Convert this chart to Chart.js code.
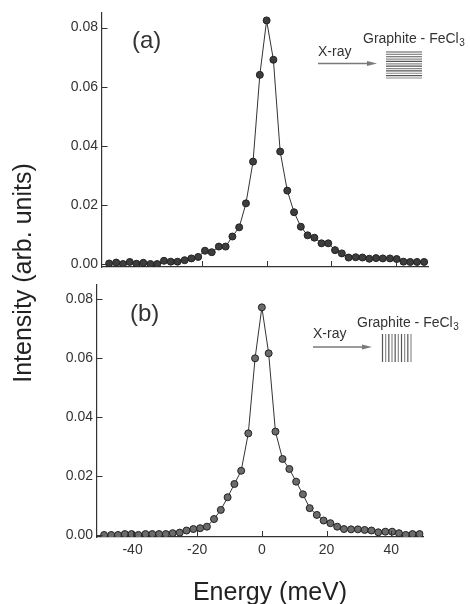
<!DOCTYPE html>
<html><head><meta charset="utf-8">
<script src="https://cdn.jsdelivr.net/npm/chart.js@4.4.0/dist/chart.umd.min.js"></script>
<style>
html,body{margin:0;padding:0;background:#fff;width:470px;height:604px;overflow:hidden;}
.wrap{position:absolute;left:0;top:0;width:470px;height:604px;}
canvas{position:absolute;left:0;top:0;}
</style></head><body>
<div class="wrap"><canvas id="ca" width="470" height="604"></canvas><canvas id="cb" width="470" height="604"></canvas></div>
<script>
// ---- data ----
const energy = [-48.8,-46.6,-44.5,-42.4,-40.3,-38.2,-36.0,-33.9,-31.8,-29.7,-27.6,-25.4,-23.3,-21.2,-19.1,-17.0,-14.8,-12.7,-10.6,-8.5,-6.4,-4.2,-2.1,0,2.1,4.2,6.4,8.5,10.6,12.7,14.8,17.0,19.1,21.2,23.3,25.4,27.6,29.7,31.8,33.9,36.0,38.2,40.3,42.4,44.5,46.6,48.8];
const intensityA = [0.0003,0.0006,0.0001,0.0008,0.0002,0.0005,0.0001,0.0001,0.0012,0.0009,0.0009,0.0014,0.0020,0.0025,0.0046,0.0041,0.0060,0.0060,0.0094,0.0125,0.0206,0.0347,0.0640,0.0824,0.0691,0.0381,0.0249,0.0176,0.0127,0.0098,0.0090,0.0071,0.0071,0.0048,0.0037,0.0023,0.0024,0.0023,0.0019,0.0021,0.0020,0.0020,0.0018,0.0009,0.0008,0.0008,0.0008];
const intensityB = [0.0000,0.0000,0.0000,0.0003,0.0003,0.0000,0.0003,0.0003,0.0003,0.0003,0.0006,0.0008,0.0015,0.0020,0.0023,0.0028,0.0054,0.0085,0.0128,0.0173,0.0218,0.0345,0.0600,0.0773,0.0617,0.0351,0.0258,0.0224,0.0181,0.0138,0.0091,0.0068,0.0049,0.0040,0.0028,0.0020,0.0019,0.0019,0.0017,0.0015,0.0009,0.0011,0.0011,0.0006,0.0000,0.0003,0.0003];
const yTicks = [0, 0.02, 0.04, 0.06, 0.08];
const xTicks = [-40, -20, 0, 20, 40];
const panelLabels = ['(a)', '(b)'];
const xTitle = 'Energy (meV)';
const yTitle = 'Intensity (arb. units)';
const insetBeam = 'X-ray';
const insetSample = 'Graphite - FeCl';
const insetSub = '3';

const FONT = '"Liberation Sans", Arial, Helvetica, sans-serif';
const INK = '#333';

function arrow(ctx, x1, x2, y){
  ctx.save();
  ctx.strokeStyle = '#7a7a7a'; ctx.fillStyle = '#7a7a7a'; ctx.lineWidth = 1.3;
  ctx.beginPath(); ctx.moveTo(x1, y); ctx.lineTo(x2 - 8, y); ctx.stroke();
  ctx.beginPath(); ctx.moveTo(x2, y); ctx.lineTo(x2 - 10, y - 2.6); ctx.lineTo(x2 - 10, y + 2.6); ctx.closePath(); ctx.fill();
  ctx.restore();
}
function sampleLabel(ctx, x, y){
  ctx.save();
  ctx.fillStyle = INK; ctx.textAlign = 'left'; ctx.textBaseline = 'alphabetic';
  ctx.font = '14px ' + FONT;
  ctx.fillText(insetSample, x, y);
  const w = ctx.measureText(insetSample).width;
  ctx.font = '10px ' + FONT;
  ctx.fillText(insetSub, x + w + 0.5, y + 3);
  ctx.restore();
}
function textAt(ctx, t, x, y, size){
  ctx.save(); ctx.fillStyle = INK; ctx.textAlign = 'left'; ctx.textBaseline = 'alphabetic';
  ctx.font = size + 'px ' + FONT; ctx.fillText(t, x, y); ctx.restore();
}

const decor = {
  id: 'decor',
  afterDatasetsDraw(chart, args, opts){
    const ctx = chart.ctx;
    const xs = chart.scales.x, ys = chart.scales.y;
    const a = chart.chartArea;
    // inside tick marks
    ctx.save();
    ctx.strokeStyle = INK; ctx.lineWidth = 1;
    xTicks.forEach(v => { const p = Math.round(xs.getPixelForValue(v)) + 0.5; ctx.beginPath(); ctx.moveTo(p, a.bottom); ctx.lineTo(p, a.bottom - 6); ctx.stroke(); });
    yTicks.forEach(v => { const p = Math.round(ys.getPixelForValue(v)) + 0.5; ctx.beginPath(); ctx.moveTo(a.left, p); ctx.lineTo(a.left + 5.5, p); ctx.stroke(); });
    ctx.restore();
    // panel label
    textAt(ctx, opts.label, opts.lx, opts.ly, 24);
    // inset
    textAt(ctx, insetBeam, opts.bx, opts.by, 14);
    arrow(ctx, opts.bx, opts.ax2, opts.ay);
    sampleLabel(ctx, opts.sx, opts.sy);
    ctx.save();
    const s = opts.stack;
    for (let i = 0; i < s.n; i++){
      ctx.strokeStyle = i % 2 ? '#8a8a8a' : '#555';
      ctx.lineWidth = 1.2;
      ctx.beginPath();
      if (s.dir === 'h'){ const y = s.y1 + i * (s.y2 - s.y1) / (s.n - 1); ctx.moveTo(s.x1, y); ctx.lineTo(s.x2, y); }
      else { const x = s.x1 + i * (s.x2 - s.x1) / (s.n - 1); ctx.moveTo(x, s.y1); ctx.lineTo(x, s.y2); }
      ctx.stroke();
    }
    ctx.restore();
    if (opts.titles){
      ctx.save(); ctx.fillStyle = '#222'; ctx.font = '25px ' + FONT;
      ctx.textAlign = 'center'; ctx.textBaseline = 'alphabetic';
      ctx.fillText(xTitle, 270, 600);
      ctx.translate(31, 273); ctx.rotate(-Math.PI/2);
      ctx.fillText(yTitle, 0, 0);
      ctx.restore();
    }
  }
};

function makeChart(id, values, cfg){
  const pts = energy.map((e, i) => ({x: e, y: values[i]}));
  return new Chart(document.getElementById(id), {
    type: 'line',
    data: { datasets: [{ data: pts, borderColor: '#333', borderWidth: 1, tension: 0,
      pointRadius: 3.5, pointBorderWidth: 1, pointBackgroundColor: cfg.fill, pointBorderColor: '#222' }] },
    options: {
      responsive: false, animation: false, devicePixelRatio: 1,
      layout: { padding: cfg.padding },
      plugins: { legend: {display: false}, tooltip: {enabled: false}, decor: cfg.decor },
      scales: {
        x: { type: 'linear', min: -51, max: 50,
          afterBuildTicks: s => { s.ticks = xTicks.map(v => ({value: v})); },
          afterFit: s => { s.height = cfg.xh; },
          grid: { display: false, drawTicks: false }, border: { display: true, color: INK, width: 1.2 },
          ticks: { display: cfg.xlabels, padding: 5, color: INK, font: { family: FONT, size: 14 }, callback: v => String(v) } },
        y: { min: cfg.ymin, max: cfg.ymax,
          afterBuildTicks: s => { s.ticks = yTicks.map(v => ({value: v})); },
          afterFit: s => { s.width = cfg.yw; },
          grid: { display: false, drawTicks: false }, border: { display: true, color: INK, width: 1.2 },
          ticks: { padding: 4, color: INK, font: { family: FONT, size: 14 }, callback: v => Number(v).toFixed(2) } }
      }
    },
    plugins: [decor]
  });
}

makeChart('ca', intensityA, {
  fill: '#3d3d3d', padding: {left: 0, top: 13, right: 42, bottom: 337}, xh: 0, yw: 102,
  ymin: -0.0009, ymax: 0.0849, xlabels: false,
  decor: { label: panelLabels[0], lx: 132, ly: 48,
    bx: 318, by: 56, ax2: 377, ay: 63.5, sx: 363, sy: 43,
    stack: { dir: 'h', n: 12, x1: 386, x2: 422, y1: 52, y2: 78 }, titles: false }
});
makeChart('cb', intensityB, {
  fill: '#6b6b6b', padding: {left: 0, top: 285, right: 46.5, bottom: 0}, xh: 67, yw: 97,
  ymin: -0.0007, ymax: 0.0849, xlabels: true,
  decor: { label: panelLabels[1], lx: 130, ly: 321,
    bx: 313, by: 338, ax2: 372, ay: 347, sx: 357, sy: 327,
    stack: { dir: 'v', n: 10, x1: 382.5, x2: 411, y1: 334, y2: 362 }, titles: true }
});
</script>
</body></html>
